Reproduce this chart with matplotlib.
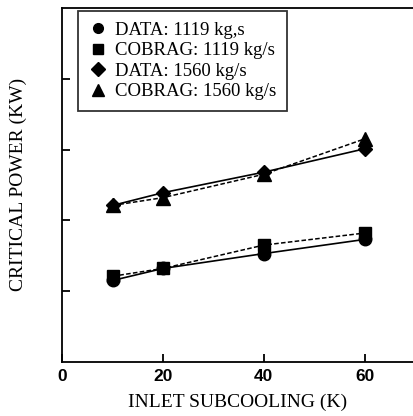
import matplotlib.pyplot as plt
from matplotlib.lines import Line2D

subcooling = [10, 20, 40, 60]
data_1119 = [1.15, 1.32, 1.53, 1.73]
cobrag_1119 = [1.21, 1.32, 1.65, 1.82]
data_1560 = [2.21, 2.39, 2.68, 3.01]
cobrag_1560 = [2.21, 2.32, 2.65, 3.15]

labels = ['DATA: 1119 kg,s', 'COBRAG: 1119 kg/s', 'DATA: 1560 kg/s', 'COBRAG: 1560 kg/s']
markers = ['o', 's', 'D', '^']

plt.rcParams['font.family'] = 'Liberation Serif'

fig = plt.figure(figsize=(4.14, 4.16), dpi=100)
ax = fig.add_axes([0.15, 0.13, 0.85, 0.851])

ax.plot(subcooling, data_1119, color='k', lw=1.2, marker='o', ms=9)
ax.plot(subcooling, cobrag_1119, color='k', lw=1.1, ls=(0, (3, 1.5)), marker='s', ms=9)
ax.plot(subcooling, data_1560, color='k', lw=1.2, marker='D', ms=7.5)
ax.plot(subcooling, cobrag_1560, color='k', lw=1.1, ls=(0, (3, 1.5)), marker='^', ms=10)

ax.set_xlim(0, 69.8)
ax.set_ylim(0, 5)
ax.set_xticks([0, 20, 40, 60])
ax.set_yticks([1, 2, 3, 4])
ax.set_yticklabels([])
ax.tick_params(direction='in', length=6, width=1.3, pad=5)
for lab in ax.get_xticklabels():
    lab.set_family('Liberation Sans')
    lab.set_fontweight('bold')
    lab.set_fontsize(12.5)
ax.spines['right'].set_visible(False)
for s in ['left', 'bottom', 'top']:
    ax.spines[s].set_linewidth(1.3)

ax.set_xlabel('INLET SUBCOOLING (K)', fontsize=14, labelpad=7)
ax.set_ylabel('CRITICAL POWER (KW)', fontsize=14, labelpad=20)

handles = [Line2D([], [], color='k', marker=m, ls='none', ms=m == '^' and 9 or 7) for m in markers]
leg = ax.legend(handles, labels, loc='upper left', bbox_to_anchor=(0.045, 0.99),
                fontsize=13.5, frameon=True, fancybox=False, edgecolor='k',
                handletextpad=0.45, handlelength=1.0, labelspacing=0.18,
                borderpad=0.55, borderaxespad=0.0)
leg.get_frame().set_linewidth(1.3)

fig.savefig('out.png', dpi=100)
